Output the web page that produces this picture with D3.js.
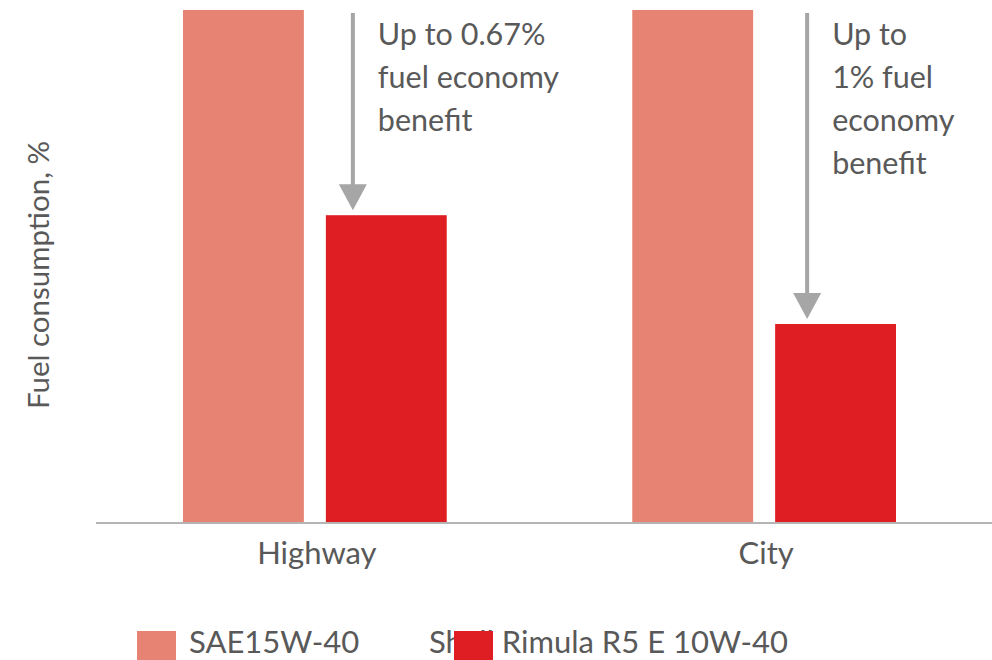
<!DOCTYPE html>
<html><head><meta charset="utf-8">
<script src="https://cdn.jsdelivr.net/npm/d3@7"></script>
<style>body{margin:0;background:#fff}svg{display:block;font-family:Lato,"Open Sans",sans-serif}</style>
</head><body><svg id="c" width="992" height="660"></svg>
<script>
const categories = ["Highway", "City"];
const seriesNames = ["SAE15W-40", "Shell Rimula R5 E 10W-40"];
const sae = [100, 100];
const shell = [99.34, 98.99];
const annotations = [["Up to 0.67%", "fuel economy", "benefit"], ["Up to", "1% fuel", "economy", "benefit"]];
const yLabel = "Fuel consumption, %";
const colors = ["#e68373", "#df1e23"];
const textColor = "#595959";

const svg = d3.select("#c");
const baseY = 523, topY = 10;
const y = d3.scaleLinear().domain([98.35, 100]).range([baseY, topY]);
const x0 = d3.scaleBand().domain(categories).range([183, 896]).paddingInner(0.413).paddingOuter(0);
const x1 = d3.scaleBand().domain(seriesNames).range([0, x0.bandwidth()]).paddingInner(0.154).paddingOuter(0);

const rows = categories.map((c, i) => ({cat: c, vals: [sae[i], shell[i]]}));

const g = svg.selectAll("g.grp").data(rows).join("g").attr("class", "grp")
  .attr("transform", d => `translate(${x0(d.cat)},0)`);
g.selectAll("rect").data(d => d.vals.map((v, j) => ({v, s: seriesNames[j], j})))
  .join("rect")
  .attr("x", d => x1(d.s)).attr("width", x1.bandwidth())
  .attr("y", d => y(d.v)).attr("height", d => baseY - y(d.v))
  .attr("fill", d => colors[d.j]);

// baseline axis
const xAxis = d3.axisBottom(x0).tickSize(0).tickPadding(0);
const ax = svg.append("g").attr("transform", `translate(0,${baseY})`).call(xAxis);
ax.select(".domain").remove();
svg.append("line").attr("x1", 96).attr("x2", 992).attr("y1", baseY).attr("y2", baseY)
  .attr("stroke", "#b4b4b4").attr("stroke-width", 2);
ax.selectAll(".tick text").attr("font-size", 31).attr("fill", textColor)
  .attr("font-family", "Lato, sans-serif").attr("dy", 0).attr("y", 41)
  .attr("transform", "translate(2,0)");

// arrows and annotations
const arrowColor = "#a6a6a6";
const arrowOffset = [27, 32];
rows.forEach((d, i) => {
  const ax_ = x0(d.cat) + x1(seriesNames[1]) + arrowOffset[i];
  const yEnd = y(d.vals[1]) - 5;
  svg.append("line").attr("x1", ax_).attr("x2", ax_).attr("y1", 13).attr("y2", yEnd - 24)
    .attr("stroke", arrowColor).attr("stroke-width", 4);
  svg.append("path").attr("d", `M${ax_-14},${yEnd-26}L${ax_+14},${yEnd-26}L${ax_},${yEnd}Z`).attr("fill", arrowColor);
  const t = svg.append("text").attr("font-size", 30.5).attr("fill", textColor);
  annotations[i].forEach((line, k) => t.append("tspan").attr("x", ax_ + 25).attr("y", 45 + k * 43).text(line));
});

// y label
svg.append("text").attr("transform", "translate(49,275) rotate(-90)")
  .attr("text-anchor", "middle").attr("font-size", 29.5).attr("fill", textColor).text(yLabel);

// legend
const leg = [{x: 137, tx: 189}, {x: 454, tx: 429}];
svg.append("rect").attr("x", leg[0].x).attr("y", 631).attr("width", 39).attr("height", 29).attr("fill", colors[0]);
svg.append("text").attr("x", leg[0].tx).attr("y", 653).attr("font-size", 31).attr("fill", textColor).text(seriesNames[0]);
svg.append("text").attr("x", leg[1].tx).attr("y", 653).attr("font-size", 31).attr("fill", textColor).text(seriesNames[1]);
svg.append("rect").attr("x", leg[1].x).attr("y", 631).attr("width", 39).attr("height", 29).attr("fill", colors[1]);
</script></body></html>
